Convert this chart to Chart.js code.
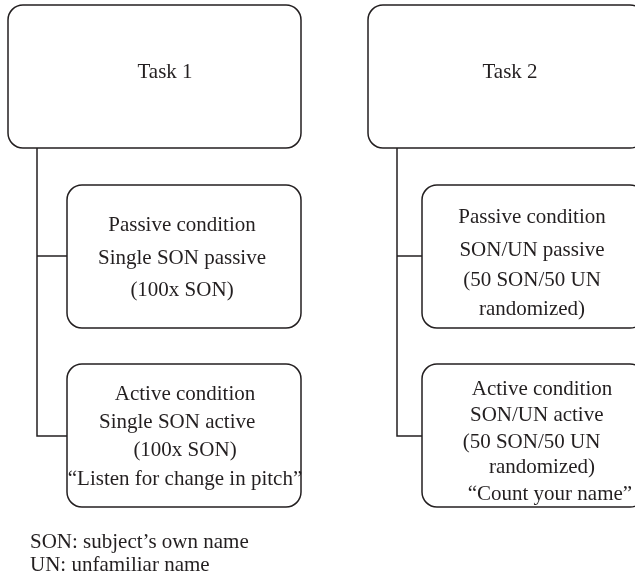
<!DOCTYPE html>
<html lang="en">
<head>
    <meta charset="UTF-8">
    <title>Task 1 / Task 2 design</title>
    <script src="https://cdn.jsdelivr.net/npm/chart.js"></script>
    <style>
        body { margin: 0; background: #fff; }
        #wrap { width: 635px; height: 577px; }
    </style>
</head>
<body>
<div id="wrap"><canvas id="myChart" width="635" height="577"></canvas></div>

<script>
    // boxes (in page units: x 0..635, y 0..577 top-down)
    const boxText = [
        ['Task 1'],
        ['Task 2'],
        ['Passive condition', 'Single SON passive', '(100x SON)'],
        ['Active condition', 'Single SON active   ', '(100x SON)', '\u201cListen for change in pitch\u201d'],
        ['Passive condition', 'SON/UN passive', '(50 SON/50 UN', 'randomized)'],
        ['Active condition', 'SON/UN active  ', '(50 SON/50 UN    ', 'randomized)', '   \u201cCount your name\u201d']
    ];
    const boxLeft = [8, 368, 67, 67, 422, 422];
    const boxRight = [301, 645, 301, 301, 645, 645];
    const boxTop = [5, 5, 185, 364, 185, 364];
    const boxBottom = [148, 148, 328, 507, 328, 507];
    const textX = [165, 510, 182, 185, 532, 542];
    const textY = [[70], [70], [223, 256, 288], [392, 420, 448, 477], [215, 248, 278, 307], [387, 413, 440, 465, 492]];

    // connector lines
    const linkX = [[37, 37, 67], [37, 67], [397, 397, 422], [397, 422]];
    const linkY = [[148, 436, 436], [256, 256], [148, 436, 436], [256, 256]];

    // footnote
    const notes = ['SON: subject\u2019s own name', 'UN: unfamiliar name'];
    const noteX = 30;
    const noteY = [540, 563];

    const ink = '#231f20';
    const font = '21px "Liberation Serif", "DejaVu Serif", serif';

    const datasets = linkX.map((xs, i) => ({
        data: xs.map((x, j) => ({ x: x, y: linkY[i][j] })),
        showLine: true,
        borderColor: ink,
        borderWidth: 1.5,
        pointRadius: 0,
        fill: false
    }));

    const boxPlugin = {
        id: 'boxes',
        afterDatasetsDraw(chart) {
            const ctx = chart.ctx;
            const sx = chart.scales.x, sy = chart.scales.y;
            ctx.save();
            ctx.strokeStyle = ink;
            ctx.lineWidth = 1.5;
            for (let i = 0; i < boxText.length; i++) {
                const x0 = sx.getPixelForValue(boxLeft[i]);
                const x1 = sx.getPixelForValue(boxRight[i]);
                const y0 = sy.getPixelForValue(boxTop[i]);
                const y1 = sy.getPixelForValue(boxBottom[i]);
                ctx.beginPath();
                ctx.roundRect(x0, y0, x1 - x0, y1 - y0, 15);
                ctx.fillStyle = '#fff';
                ctx.fill();
                ctx.stroke();

                ctx.fillStyle = ink;
                ctx.font = font;
                ctx.textAlign = 'center';
                ctx.textBaseline = 'middle';
                boxText[i].forEach((line, j) => {
                    // +2: 'middle' sits a little above the visual centre of the caps
                    ctx.fillText(line, sx.getPixelForValue(textX[i]), sy.getPixelForValue(textY[i][j]) + 2);
                });
            }
            ctx.textAlign = 'left';
            notes.forEach((n, j) => {
                ctx.fillText(n, sx.getPixelForValue(noteX), sy.getPixelForValue(noteY[j]) + 2);
            });
            ctx.restore();
        }
    };

    new Chart(document.getElementById('myChart'), {
        type: 'scatter',
        data: { datasets: datasets },
        options: {
            responsive: false,
            animation: false,
            layout: { padding: 0 },
            scales: {
                x: { type: 'linear', min: 0, max: 635, display: false },
                y: { type: 'linear', min: 0, max: 577, reverse: true, display: false }
            },
            plugins: { legend: { display: false }, tooltip: { enabled: false } }
        },
        plugins: [boxPlugin]
    });
</script>
</body>
</html>
